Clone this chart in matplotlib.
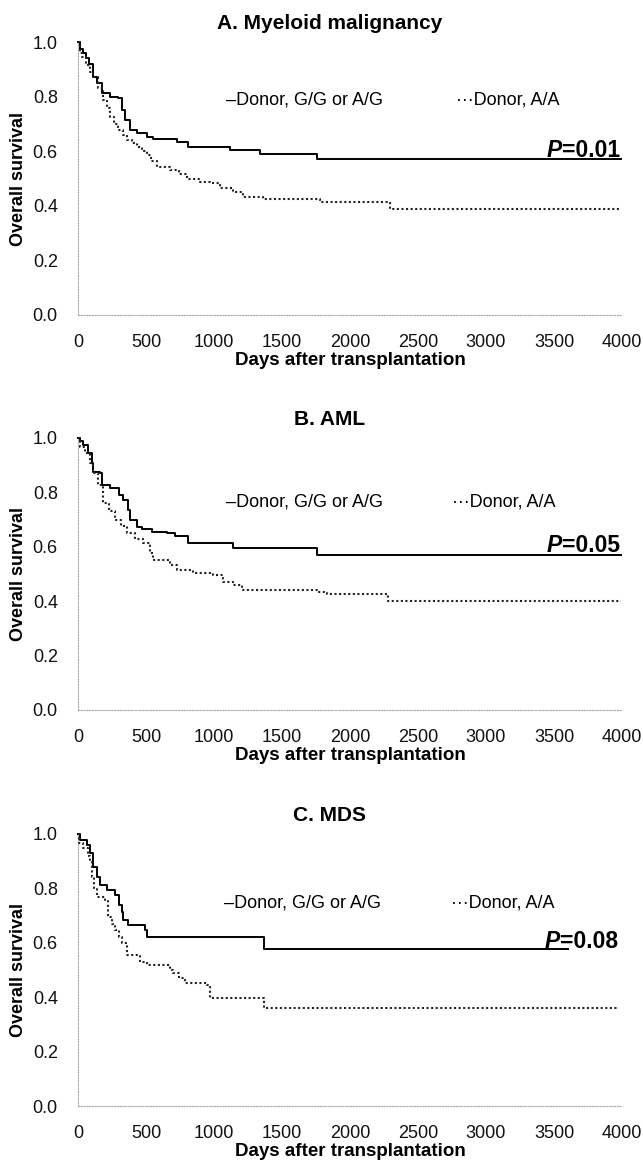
import matplotlib
matplotlib.use("Agg")
import matplotlib.pyplot as plt

# ---- data (days after transplantation, overall survival) ----
# A. Myeloid malignancy
a_gg_days = [0, 15, 39, 60, 80, 112, 137, 175, 235, 297, 320, 345, 382, 431, 505, 554, 725, 811, 1117, 1338, 1754, 3990]
a_gg_surv = [1.0, 0.975, 0.96, 0.94, 0.92, 0.873, 0.849, 0.812, 0.80, 0.794, 0.751, 0.714, 0.678, 0.666, 0.653, 0.643, 0.635, 0.617, 0.605, 0.590, 0.570, 0.570]
a_aa_days = [0, 15, 30, 60, 90, 113, 150, 186, 210, 235, 265, 297, 330, 358, 395, 431, 470, 505, 540, 578, 676, 740, 799, 897, 970, 1044, 1142, 1215, 1362, 1779, 2293, 3990]
a_aa_surv = [1.0, 0.96, 0.945, 0.915, 0.89, 0.873, 0.83, 0.788, 0.76, 0.726, 0.70, 0.678, 0.66, 0.641, 0.63, 0.617, 0.60, 0.586, 0.565, 0.543, 0.531, 0.515, 0.50, 0.488, 0.482, 0.464, 0.452, 0.433, 0.425, 0.413, 0.39, 0.39]

# B. AML
b_gg_days = [0, 15, 39, 76, 100, 113, 162, 174, 235, 300, 333, 370, 382, 431, 468, 542, 652, 713, 811, 1142, 1754, 3990]
b_gg_surv = [1.0, 0.99, 0.974, 0.944, 0.907, 0.876, 0.870, 0.827, 0.815, 0.79, 0.772, 0.735, 0.699, 0.674, 0.664, 0.656, 0.650, 0.640, 0.613, 0.597, 0.570, 0.570]
b_aa_days = [0, 15, 51, 88, 113, 149, 186, 230, 272, 315, 358, 420, 480, 529, 554, 676, 725, 848, 995, 1068, 1142, 1203, 1754, 1828, 2281, 3990]
b_aa_surv = [1.0, 0.968, 0.944, 0.907, 0.870, 0.827, 0.760, 0.73, 0.699, 0.675, 0.650, 0.63, 0.613, 0.576, 0.551, 0.533, 0.515, 0.505, 0.496, 0.472, 0.460, 0.441, 0.435, 0.426, 0.400, 0.400]

# C. MDS
c_gg_days = [0, 15, 64, 88, 113, 137, 162, 211, 272, 300, 321, 333, 370, 492, 505, 1370, 3600]
c_gg_surv = [1.0, 0.978, 0.960, 0.929, 0.880, 0.843, 0.812, 0.794, 0.776, 0.74, 0.714, 0.684, 0.665, 0.647, 0.622, 0.577, 0.577]
c_aa_days = [0, 10, 39, 70, 88, 100, 120, 137, 198, 223, 250, 272, 300, 321, 358, 456, 505, 680, 701, 740, 787, 946, 970, 1370, 3980]
c_aa_surv = [1.0, 0.966, 0.947, 0.92, 0.898, 0.843, 0.80, 0.769, 0.757, 0.696, 0.67, 0.647, 0.62, 0.598, 0.555, 0.531, 0.518, 0.50, 0.488, 0.47, 0.451, 0.445, 0.396, 0.362, 0.362]

titles = ["A. Myeloid malignancy", "B. AML", "C. MDS"]
p_values = ["0.01", "0.05", "0.08"]
legend_gg = "\u2013Donor, G/G or A/G"
legend_aa = "\u00b7\u00b7\u00b7Donor, A/A"
x_ticks = [0, 500, 1000, 1500, 2000, 2500, 3000, 3500, 4000]
y_ticks = [0.0, 0.2, 0.4, 0.6, 0.8, 1.0]

curves = [
    (a_gg_days, a_gg_surv, a_aa_days, a_aa_surv),
    (b_gg_days, b_gg_surv, b_aa_days, b_aa_surv),
    (c_gg_days, c_gg_surv, c_aa_days, c_aa_surv),
]

plt.rcParams['font.family'] = ['Liberation Sans', 'DejaVu Sans']

fig = plt.figure(figsize=(6.43, 11.71), dpi=100)

# axes boxes [left, bottom, width, height] in figure fraction
boxes = [
    [0.1213, 0.7310, 0.846, 0.2331],
    [0.1213, 0.3937, 0.846, 0.2323],
    [0.1213, 0.0555, 0.846, 0.2323],
]
# legend / P label placement (data coords)
leg_pos = [((1090, 0.788), (2780, 0.788)),
           ((1085, 0.766), (2750, 0.766)),
           ((1075, 0.747), (2740, 0.747))]
p_pos = [(3985, 0.578), (3985, 0.580), (3970, 0.580)]

for i, (gd, gs, ad, as_) in enumerate(curves):
    ax = fig.add_axes(boxes[i])
    ax.step(gd, gs, where='post', color='black', lw=1.4, clip_on=False, zorder=3)
    ax.step(ad, as_, where='post', color='#222222', lw=1.5,
            linestyle=(0, (1, 1.2)), clip_on=False, zorder=3)

    ax.set_xlim(0, 4000)
    ax.set_ylim(0, 1.0)
    ax.set_xticks(x_ticks)
    ax.set_yticks(y_ticks)
    ax.set_yticklabels([f"{v:.1f}" for v in y_ticks])
    ax.tick_params(length=0, labelsize=13, colors='#111111')
    ax.tick_params(axis='x', pad=14)
    ax.tick_params(axis='y', pad=14.5)

    for side in ['top', 'right']:
        ax.spines[side].set_visible(False)
    for side in ['left', 'bottom']:
        ax.spines[side].set_color('#aaaaaa')
        ax.spines[side].set_linestyle((0, (1, 1.5)))
        ax.spines[side].set_linewidth(0.8)

    ax.set_title(titles[i], fontsize=15, fontweight='bold', x=0.463, pad=9.5)
    ax.set_ylabel("Overall survival", fontsize=13, fontweight='bold')
    ax.yaxis.set_label_coords(-0.094, 0.5)
    ax.set_xlabel("Days after transplantation", fontsize=13.5, fontweight='bold', va='top')
    ax.xaxis.set_label_coords(0.5, -0.135)

    (gx, gy), (axx, ayy) = leg_pos[i]
    ax.text(gx, gy, legend_gg, fontsize=13, va='center', ha='left')
    ax.text(axx, ayy, legend_aa, fontsize=13, va='center', ha='left')

    # P value: italic bold "P" followed by bold "=value"
    px, py = p_pos[i]
    rest = ax.text(px, py, "=" + p_values[i], fontsize=16.5, fontweight='bold',
                   ha='right', va='baseline')
    ax.annotate("P", xy=(0, 0), xycoords=rest, fontsize=16.5, fontweight='bold',
                fontstyle='italic', ha='right', va='bottom')

fig.savefig("out.png", dpi=100)
